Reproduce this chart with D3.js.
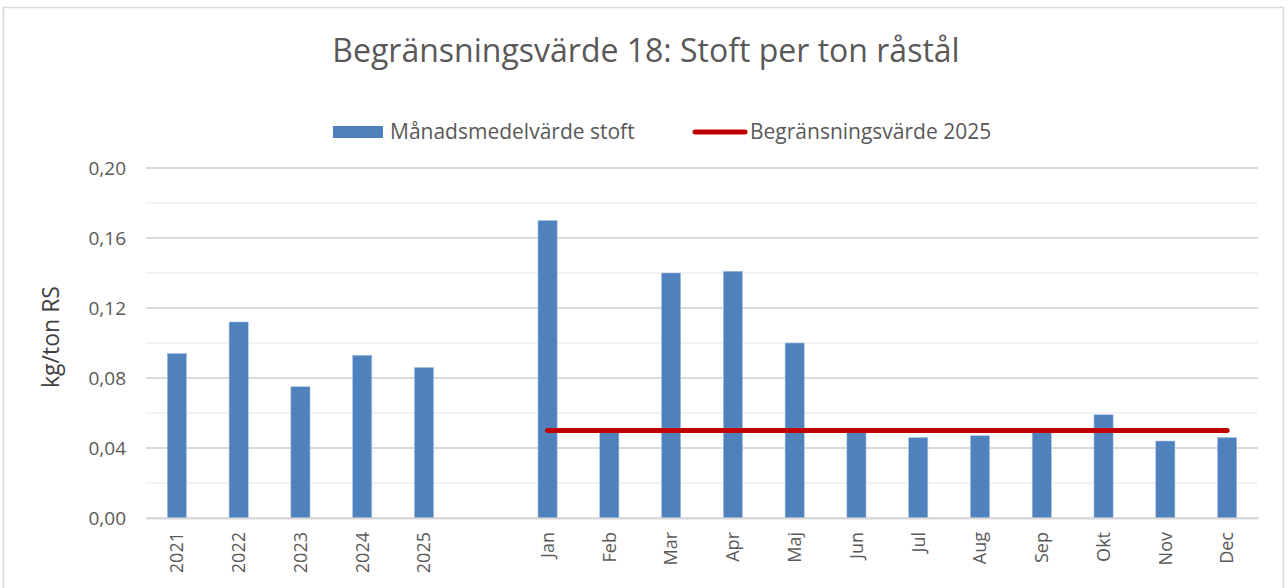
<!DOCTYPE html>
<html>
<head>
  <meta charset="utf-8" />
  <title>Begränsningsvärde 18</title>
  <script src="https://d3js.org/d3.v7.min.js"></script>
  <style>
    body{ margin:0; background:#fff; }
    text{ font-family: "Open Sans", Lato, sans-serif; fill:#595959; }
  </style>
</head>
<body>
<script>
// categories: years, one empty slot, then months
var categories = ["2021","2022","2023","2024","2025"," ","Jan","Feb","Mar","Apr","Maj","Jun","Jul","Aug","Sep","Okt","Nov","Dec"];
var dustValues = [0.094,0.112,0.075,0.093,0.086,null,0.170,0.049,0.140,0.141,0.100,0.049,0.046,0.047,0.049,0.059,0.044,0.046];
var limitMonths = ["Jan","Feb","Mar","Apr","Maj","Jun","Jul","Aug","Sep","Okt","Nov","Dec"];
var limitValue = 0.05;
var yTicks = [0,0.04,0.08,0.12,0.16,0.20];
var yMinor = [0.02,0.06,0.10,0.14,0.18];

var W = 1288, H = 588;
var svg = d3.select('body').append('svg').attr('width',W).attr('height',H);

// chart frame
svg.append('rect').attr('x',3.5).attr('y',7.5).attr('width',1280).attr('height',600)
  .attr('fill','#fff').attr('stroke','#d9d9d9').attr('stroke-width',1.5);

var x = d3.scaleBand().domain(categories).range([146,1258]).paddingInner(0.69).paddingOuter(0.345);
var y = d3.scaleLinear().domain([0,0.20]).range([518,168]);

var locale = d3.formatLocale({decimal:",", thousands:" ", grouping:[3], currency:["","kr"]});
var fmt = locale.format(".2f");

// gridlines
svg.append('g').selectAll('line').data(yMinor).enter().append('line')
  .attr('x1',146).attr('x2',1258).attr('y1',function(d){return y(d)}).attr('y2',function(d){return y(d)})
  .attr('stroke','#f2f2f2').attr('stroke-width',2);
svg.append('g').selectAll('line').data(yTicks).enter().append('line')
  .attr('x1',146).attr('x2',1258).attr('y1',function(d){return y(d)}).attr('y2',function(d){return y(d)})
  .attr('stroke','#d9d9d9').attr('stroke-width',2);

// y axis labels
var yAxis = svg.append('g').attr('transform','translate(146,0)')
  .call(d3.axisLeft(y).tickValues(yTicks).tickFormat(fmt).tickSize(0).tickPadding(20));
yAxis.select('.domain').remove();
yAxis.selectAll('text').style('font-size','19px').attr('fill','#595959');

svg.append('text').attr('transform','translate(59,337) rotate(-90)')
  .attr('text-anchor','middle').style('font-size','23px').style('fill','#404040')
  .text('kg/ton RS');

// bars
var bars = categories.map(function(c,i){ return {cat:c, v:dustValues[i]}; })
  .filter(function(d){ return d.v != null; });
svg.append('g').selectAll('rect').data(bars).enter().append('rect')
  .attr('x',function(d){return x(d.cat)}).attr('width',x.bandwidth())
  .attr('y',function(d){return y(d.v)}).attr('height',function(d){return y(0)-y(d.v)})
  .attr('fill','#4f81bd').attr('stroke','#a9c1e0').attr('stroke-width',0.6);

// limit line
var line = d3.line().x(function(d){return x(d)+x.bandwidth()/2}).y(function(){return y(limitValue)});
svg.append('path').datum(limitMonths).attr('d',line)
  .attr('fill','none').attr('stroke','#c00000').attr('stroke-width',5).attr('stroke-linecap','round');

// x axis
var xAxis = svg.append('g').attr('transform','translate(0,518)')
  .call(d3.axisBottom(x).tickSize(0).tickPadding(0));
xAxis.select('.domain').attr('stroke','#d9d9d9').attr('stroke-width',2);
xAxis.selectAll('text')
  .attr('transform','rotate(-90)').attr('text-anchor','end')
  .attr('x',-14).attr('y',0).attr('dy','0.35em')
  .style('font-size','18px').attr('fill','#595959');

// title
svg.append('text').attr('x',646).attr('y',62).attr('text-anchor','middle')
  .style('font-size','32px').text('Begränsningsvärde 18: Stoft per ton råstål');

// legend
var leg = svg.append('g');
leg.append('rect').attr('x',333).attr('y',126).attr('width',50).attr('height',12).attr('fill','#4f81bd');
leg.append('text').attr('x',390).attr('y',139).style('font-size','21px').text('Månadsmedelvärde stoft');
leg.append('line').attr('x1',695).attr('x2',745).attr('y1',132).attr('y2',132)
  .attr('stroke','#c00000').attr('stroke-width',5).attr('stroke-linecap','round');
leg.append('text').attr('x',750).attr('y',139).style('font-size','21px').text('Begränsningsvärde 2025');
</script>
</body>
</html>
